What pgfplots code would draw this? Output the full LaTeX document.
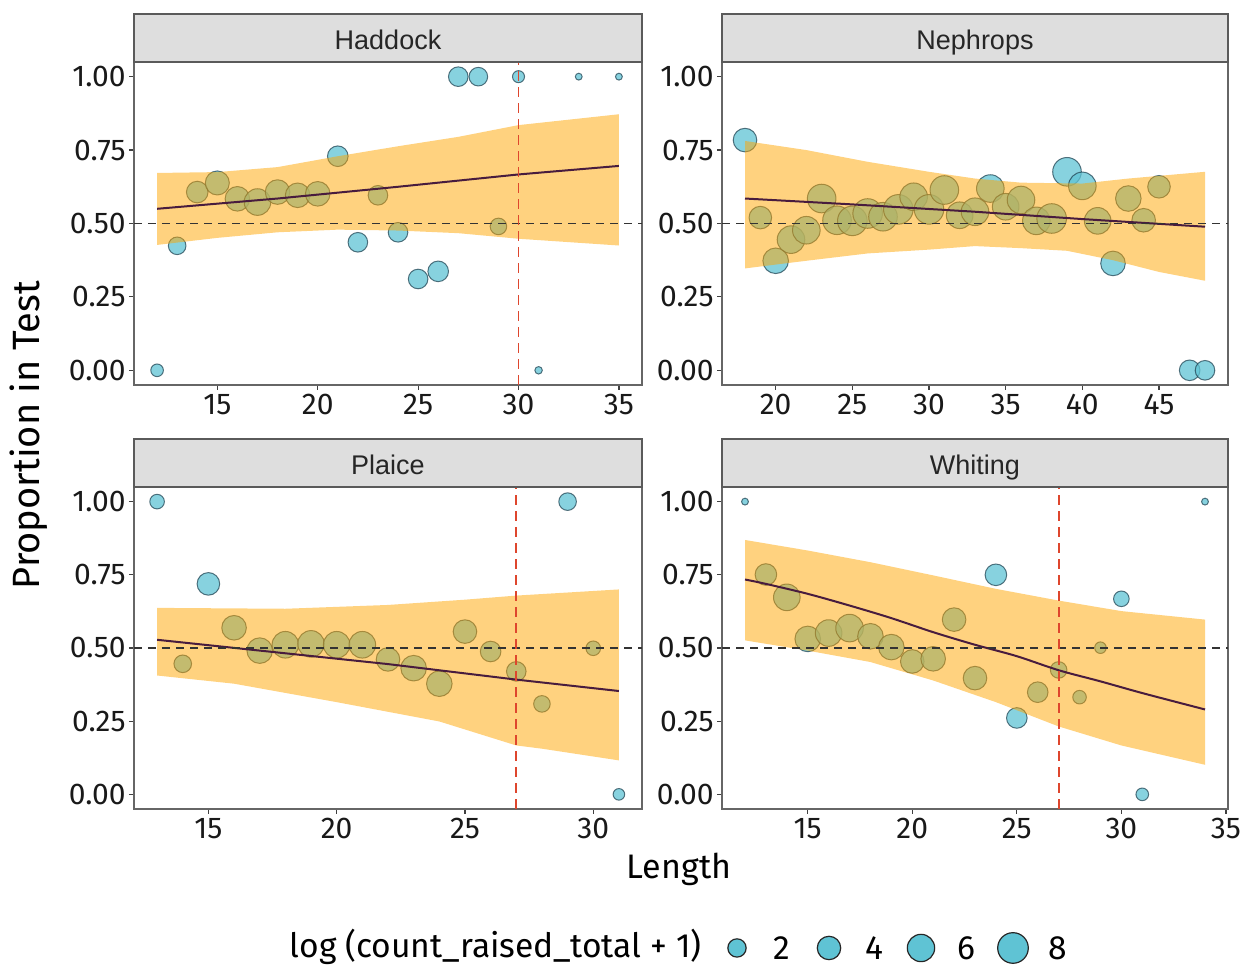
\documentclass[border=0pt]{standalone}
\usepackage{pgfplots}
\pgfplotsset{compat=1.18}
\usepackage{pgfplotstable}
\usepackage{fontspec}
\setmainfont{Fira Sans}
\newfontfamily\stripff{Liberation Sans}
\definecolor{ptfill}{RGB}{95,195,212}
\definecolor{ptline}{RGB}{35,70,85}
\definecolor{ribbon}{RGB}{255,165,0}
\definecolor{fitline}{RGB}{72,28,62}
\definecolor{stripfill}{RGB}{222,222,222}
\definecolor{stripdraw}{RGB}{90,90,90}
\definecolor{vred}{RGB}{222,70,45}
\newcommand\tickfont{\fontsize{15}{18}\selectfont}
\newcommand\stripfont{\stripff\fontsize{13.5}{16}\selectfont}
\newcommand\labfont{\fontsize{17}{20}\selectfont}
\newcommand\ylabfont{\fontsize{19}{22}\selectfont}
\newcommand\legfont{\fontsize{16.8}{20}\selectfont}

% ---------------- data ----------------
\pgfplotstableread{
x y s
12 0.000 0.58
13 0.424 1.78
14 0.607 3.22
15 0.638 4.30
16 0.584 4.57
17 0.573 5.61
18 0.607 4.57
19 0.596 4.57
20 0.601 4.57
21 0.729 2.82
22 0.436 2.44
23 0.596 2.44
24 0.470 2.44
25 0.311 2.44
26 0.337 2.82
27 1.000 2.44
28 1.000 2.10
29 0.490 1.48
30 1.000 0.48
31 0.000 0.03
33 1.000 0.01
35 1.000 0.01
}\hadpts
\pgfplotstableread{
x y
12 0.672
15 0.675
18 0.692
21 0.729
24 0.763
27 0.795
30 0.835
35 0.872
35 0.425
30 0.448
27 0.467
24 0.476
21 0.479
18 0.470
15 0.451
12 0.427
}\hadrib
\pgfplotstableread{
x y
12 0.550
18 0.585
24 0.625
30 0.667
35 0.696
}\hadfit

\pgfplotstableread{
x y s
18 0.784 4.09
19 0.520 3.64
20 0.373 5.07
21 0.445 6.16
22 0.477 6.16
23 0.585 6.75
24 0.511 6.75
25 0.509 7.36
26 0.534 7.36
27 0.523 6.75
28 0.548 7.36
29 0.591 6.16
30 0.548 7.36
31 0.614 6.75
32 0.528 5.61
33 0.540 6.16
34 0.619 6.16
35 0.557 5.61
36 0.580 6.16
37 0.509 6.16
38 0.517 7.36
39 0.676 6.75
40 0.628 6.16
41 0.509 5.61
42 0.364 4.57
43 0.585 5.07
44 0.511 4.09
45 0.625 3.64
47 0.000 2.82
48 0.000 2.44
}\neppts
\pgfplotstableread{
x y
18 0.781
22 0.750
26 0.710
30 0.676
33 0.653
36 0.639
40 0.636
43 0.653
48 0.676
48 0.305
45 0.335
42 0.375
39 0.407
36 0.416
33 0.423
30 0.411
26 0.398
22 0.373
18 0.347
}\neprib
\pgfplotstableread{
x y
18 0.585
25 0.565
33 0.540
40 0.515
48 0.489
}\nepfit

\pgfplotstableread{
x y s
13 1.000 0.98
14 0.446 1.78
15 0.719 3.64
16 0.569 4.57
17 0.491 5.07
18 0.511 5.61
19 0.514 5.61
20 0.511 5.61
21 0.511 5.61
22 0.461 4.09
23 0.431 5.07
24 0.378 5.07
25 0.556 4.09
26 0.488 2.82
27 0.420 2.44
28 0.309 1.48
29 1.000 1.78
30 0.499 0.98
31 0.000 0.41
}\plapts
\pgfplotstableread{
x y
13 0.637
18 0.634
22 0.647
25 0.665
27 0.679
31 0.700
31 0.116
28 0.156
27 0.167
24 0.249
20 0.315
16 0.378
13 0.406
}\plarib
\pgfplotstableread{
x y
13 0.528
22 0.445
27 0.392
31 0.353
}\plafit

\pgfplotstableread{
x y s
12 1.000 0.01
13 0.751 3.22
14 0.673 5.61
15 0.531 5.07
16 0.551 5.61
17 0.568 6.16
18 0.540 5.07
19 0.503 5.07
20 0.454 4.09
21 0.463 4.57
22 0.597 4.09
23 0.397 4.09
24 0.750 3.22
25 0.261 2.82
26 0.349 2.82
27 0.425 1.48
28 0.332 0.76
29 0.501 0.41
30 0.668 1.22
31 0.000 0.58
34 1.000 0.01
}\whipts
\pgfplotstableread{
x y
12 0.869
15 0.833
18 0.793
21 0.748
24 0.702
27 0.662
30 0.626
34 0.597
34 0.101
30 0.167
27 0.232
24 0.315
21 0.389
18 0.452
15 0.491
12 0.526
}\whirib
\pgfplotstableread{
x y
12 0.734
13 0.719
15 0.685
17 0.645
19 0.602
21 0.554
23 0.511
25 0.472
27 0.424
29 0.386
31 0.346
34 0.290
}\whifit

\pgfplotstableread{
x y s
0 0 2
1 0 4
2 0 6
3 0 8
}\legpts

\pgfplotsset{
  panel/.style={
    scale only axis, anchor=south west,
    clip marker paths=true,
    ymin=-0.05, ymax=1.05,
    ytick={0,0.25,0.5,0.75,1},
    yticklabels={0.00,0.25,0.50,0.75,1.00},
    xtick pos=left, ytick pos=left,
    tick align=outside,
    major tick length=2.5pt,
    tick style={draw=black!75, line width=0.6pt},
    axis line style={draw=black!60, line width=0.6pt},
    ticklabel style={font=\tickfont, text=black!90},
    yticklabel style={inner sep=1.5pt},
    xticklabel style={inner sep=2pt},
    /pgf/number format/assume math mode=true,
  },
  pts/.style={scatter, only marks, mark=*,
    scatter/use mapped color={draw=ptline, fill=ptfill},
    mark options={line width=0.5pt, fill opacity=0.75, draw opacity=0.75},
    visualization depends on={(6.0+8.7*sqrt(\thisrow{s}))/4 \as \rad},
    scatter/@pre marker code/.append style={/tikz/mark size=\rad pt}},
  rib/.style={draw=none, fill=ribbon, fill opacity=0.5, no marks},
  fit/.style={fitline, line width=1pt, no marks},
  hl/.style={black!80, line width=0.8pt, dash pattern=on 4pt off 3pt, no marks},
  vl/.style={vred, line width=0.9pt, dash pattern=on 5pt off 3pt, no marks},
}

\begin{document}
\begin{tikzpicture}
\path[use as bounding box] (0pt,0pt) rectangle (622pt,483.5pt);

% Haddock
\begin{axis}[panel, at={(67pt,291pt)}, width=254pt, height=161.5pt,
  xmin=10.85, xmax=36.15, xtick={15,20,25,30,35}]
\addplot[pts] table {\hadpts};
\addplot[rib] table {\hadrib};
\addplot[fit] table {\hadfit};
\addplot[hl] coordinates {(10.85,0.5) (36.15,0.5)};
\addplot[vl] coordinates {(30,-0.05) (30,1.05)};
\end{axis}

% Nephrops
\begin{axis}[panel, at={(361pt,291pt)}, width=253pt, height=161.5pt,
  xmin=16.5, xmax=49.5, xtick={20,25,30,35,40,45}]
\addplot[pts] table {\neppts};
\addplot[rib] table {\neprib};
\addplot[fit] table {\nepfit};
\addplot[hl] coordinates {(16.5,0.5) (49.5,0.5)};
\end{axis}

% Plaice
\begin{axis}[panel, at={(67pt,79pt)}, width=254pt, height=161pt,
  xmin=12.1, xmax=31.9, xtick={15,20,25,30}]
\addplot[pts] table {\plapts};
\addplot[rib] table {\plarib};
\addplot[fit] table {\plafit};
\addplot[hl] coordinates {(12.1,0.5) (31.9,0.5)};
\addplot[vl] coordinates {(27,-0.05) (27,1.05)};
\end{axis}

% Whiting
\begin{axis}[panel, at={(361pt,79pt)}, width=253pt, height=161pt,
  xmin=10.9, xmax=35.1, xtick={15,20,25,30,35}]
\addplot[pts] table {\whipts};
\addplot[rib] table {\whirib};
\addplot[fit, smooth] table {\whifit};
\addplot[hl] coordinates {(10.9,0.5) (35.1,0.5)};
\addplot[vl] coordinates {(27,-0.05) (27,1.05)};
\end{axis}

% strips
\foreach \xa/\xb/\ya/\yb/\lab in {67/321/452.5/476.5/Haddock, 361/614/452.5/476.5/Nephrops, 67/321/240/264/Plaice, 361/614/240/264/Whiting}{
  \draw[fill=stripfill, draw=stripdraw, line width=0.6pt] (\xa pt,\ya pt) rectangle (\xb pt,\yb pt);
  \node[font=\stripfont, text=black!85, inner sep=0pt, anchor=base] at ({(\xa+\xb)/2*1pt},{(\ya+6)*1pt}) {\lab};
}

% axis titles
\node[rotate=90, font=\ylabfont] at (14.5pt,266pt) {Proportion in Test};
\node[anchor=base, font=\labfont] at (339.5pt,44pt) {Length};

% legend
\node[anchor=base east, font=\legfont, inner sep=0pt] at (351pt,4.8pt) {log (count\_raised\_total + 1)};
\begin{axis}[at={(368.5pt,4.5pt)}, anchor=south west, scale only axis,
  width=138pt, height=10pt, xmin=0, xmax=3, ymin=-1, ymax=1,
  hide axis, clip=false]
\addplot[scatter, only marks, mark=*,
    scatter/use mapped color={draw=black!85, fill=ptfill},
    mark options={line width=0.6pt},
    visualization depends on={(6.0+8.7*sqrt(\thisrow{s}))/4 \as \rad},
    scatter/@pre marker code/.append style={/tikz/mark size=\rad pt}] table {\legpts};
\node[font=\legfont, xshift=22.5pt] at (axis cs:0,0) {2};
\node[font=\legfont, xshift=22.5pt] at (axis cs:1,0) {4};
\node[font=\legfont, xshift=22.5pt] at (axis cs:2,0) {6};
\node[font=\legfont, xshift=22.5pt] at (axis cs:3,0) {8};
\end{axis}
\end{tikzpicture}
\end{document}
